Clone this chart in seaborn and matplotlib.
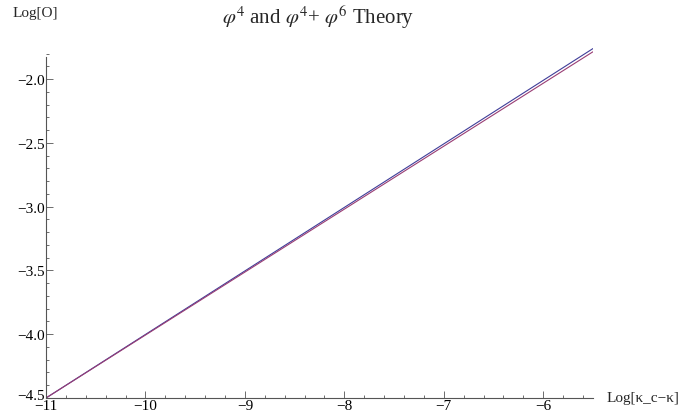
import pandas as pd
import matplotlib
matplotlib.use("Agg")
import matplotlib.pyplot as plt
import matplotlib.transforms as mtransforms
import seaborn as sns
from matplotlib.ticker import MultipleLocator

# ---- data ----
log_dk = [-11.0, -5.5]
log_o_phi4 = [-4.5, -1.76]
log_o_phi46 = [-4.5, -1.785]
series_names = ["phi4", "phi4+phi6"]
series_colors = ["#3f3d99", "#993d74"]

xticks = [-11, -10, -9, -8, -7, -6]
xlabels = ["\u221211", "\u221210", "\u22129", "\u22128", "\u22127", "\u22126"]
yticks = [-4.5, -4.0, -3.5, -3.0, -2.5, -2.0]
ylabels = ["\u22124.5", "\u22124.0", "\u22123.5", "\u22123.0", "\u22122.5", "\u22122.0"]

df = pd.concat([
    pd.DataFrame({"x": log_dk, "y": log_o_phi4, "theory": series_names[0]}),
    pd.DataFrame({"x": log_dk, "y": log_o_phi46, "theory": series_names[1]}),
])

sns.set_style("ticks")
plt.rcParams["font.family"] = ["Liberation Serif", "DejaVu Serif"]
plt.rcParams["mathtext.fontset"] = "stix"

fig = plt.figure(figsize=(6.89, 4.14), dpi=100)
# axes box: x -11 -> px 46, x -5.5 -> px 593; y -4.5 -> px 399, y -1.74 -> px 47
ax = fig.add_axes([46 / 689, 15 / 414, (593 - 46) / 689, (399 - 47) / 414])

sns.lineplot(data=df, x="x", y="y", hue="theory", palette=series_colors,
             linewidth=0.8, legend=False, ax=ax)

ax.set_xlim(-11, -5.5)
ax.set_ylim(-4.5, -1.74)
ax.set_xticks(xticks, xlabels)
ax.set_yticks(yticks, ylabels)
ax.xaxis.set_minor_locator(MultipleLocator(0.2))
ax.yaxis.set_minor_locator(MultipleLocator(0.1))
ax.set_xlabel("")
ax.set_ylabel("")

axis_col = "#555555"
for side in ["top", "right"]:
    ax.spines[side].set_visible(False)
for side in ["left", "bottom"]:
    ax.spines[side].set_color(axis_col)
    ax.spines[side].set_linewidth(0.8)
ax.spines["left"].set_bounds(-4.5, -1.83)
ax.tick_params(which="both", direction="in", color=axis_col, width=0.6,
               labelsize=11, labelcolor="black")
ax.tick_params(which="major", length=5, pad=1)
ax.tick_params(which="minor", length=2.5)
ax.patch.set_alpha(0)

# lift the corner label a little so it clears the -11 below it
corner = ax.get_yticklabels()[0]
corner.set_transform(corner.get_transform() +
                     mtransforms.ScaledTranslation(0, 4 / 100, fig.dpi_scale_trans))

fig.text(318 / 689, 1 - 17 / 414,
         r"$\varphi^4$ and $\varphi^4$+ $\varphi^6$ Theory",
         ha="center", va="center", fontsize=15)
fig.text(35 / 689, 1 - 14 / 414, "Log[O]", ha="center", va="center", fontsize=11)
fig.text(607 / 689, 15 / 414, "Log[\u03ba_c\u2212\u03ba]", ha="left", va="center",
         fontsize=11)

fig.savefig("out.png", dpi=100)
